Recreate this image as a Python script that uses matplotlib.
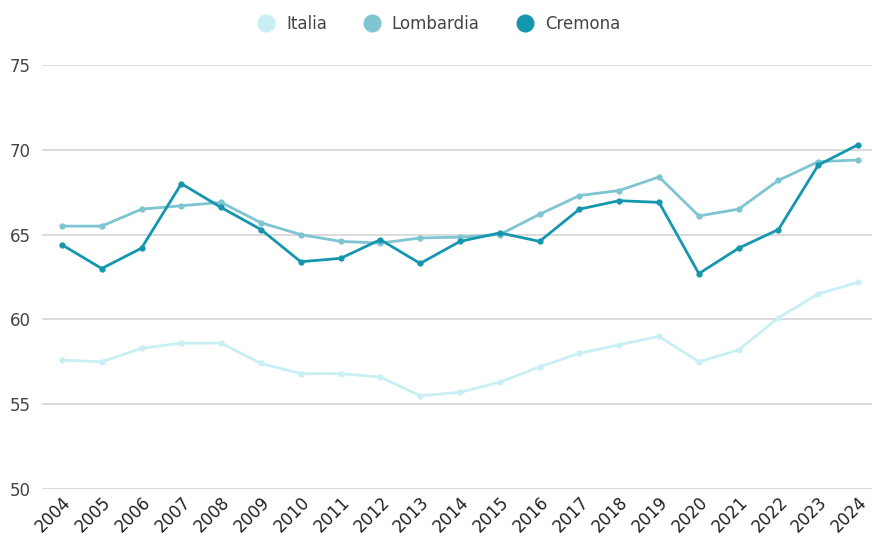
import matplotlib.pyplot as plt

years = list(range(2004, 2025))

italia = [57.6, 57.5, 58.3, 58.6, 58.6, 57.4, 56.8, 56.8, 56.6, 55.5, 55.7,
          56.3, 57.2, 58.0, 58.5, 59.0, 57.5, 58.2, 60.1, 61.5, 62.2]
lombardia = [65.5, 65.5, 66.5, 66.7, 66.9, 65.7, 65.0, 64.6, 64.5, 64.8, 64.85,
             65.0, 66.2, 67.3, 67.6, 68.4, 66.1, 66.5, 68.2, 69.3, 69.4]
cremona = [64.4, 63.0, 64.2, 68.0, 66.6, 65.3, 63.4, 63.6, 64.7, 63.3, 64.6,
           65.1, 64.6, 66.5, 67.0, 66.9, 62.7, 64.2, 65.3, 69.1, 70.3]

yticks = [50, 55, 60, 65, 70, 75]

plt.rcParams['font.family'] = ['DejaVu Sans']

fig = plt.figure(figsize=(8.74, 5.39), dpi=100)
ax = fig.add_axes([42 / 874, 50 / 539, 830 / 874, 424 / 539])

ax.plot(years, italia, marker='o', markersize=3.5, lw=2, color='#c8eff3', label='Italia')
ax.plot(years, lombardia, marker='o', markersize=3.5, lw=2, color='#7fc5d1', label='Lombardia')
ax.plot(years, cremona, marker='o', markersize=3.5, lw=2, color='#1497ae', label='Cremona')

ax.set_xlim(2003.5, 2024.35)
ax.set_ylim(50, 75)
ax.set_yticks(yticks)
ax.set_xticks(years)
ax.set_xticklabels([str(y) for y in years], rotation=45, ha='right',
                   rotation_mode='anchor', fontsize=12, color='#222222')
ax.tick_params(axis='y', labelsize=12, labelcolor='#444444', length=0, pad=8)
ax.tick_params(axis='x', length=0, pad=3)
ax.grid(axis='y', color='#d6d6d6', lw=1.2)
ax.set_axisbelow(True)
for s in ax.spines.values():
    s.set_visible(False)

leg = fig.legend(loc='upper center', bbox_to_anchor=(0.503, 1.0), ncol=3, frameon=False,
                 fontsize=12, handlelength=0.8, handletextpad=0.8, columnspacing=2.3,
                 labelcolor='#444444')
for h in leg.legend_handles:
    h.set_linestyle('')
    h.set_marker('o')
    h.set_markersize(12)

plt.savefig('out.png', dpi=100)
